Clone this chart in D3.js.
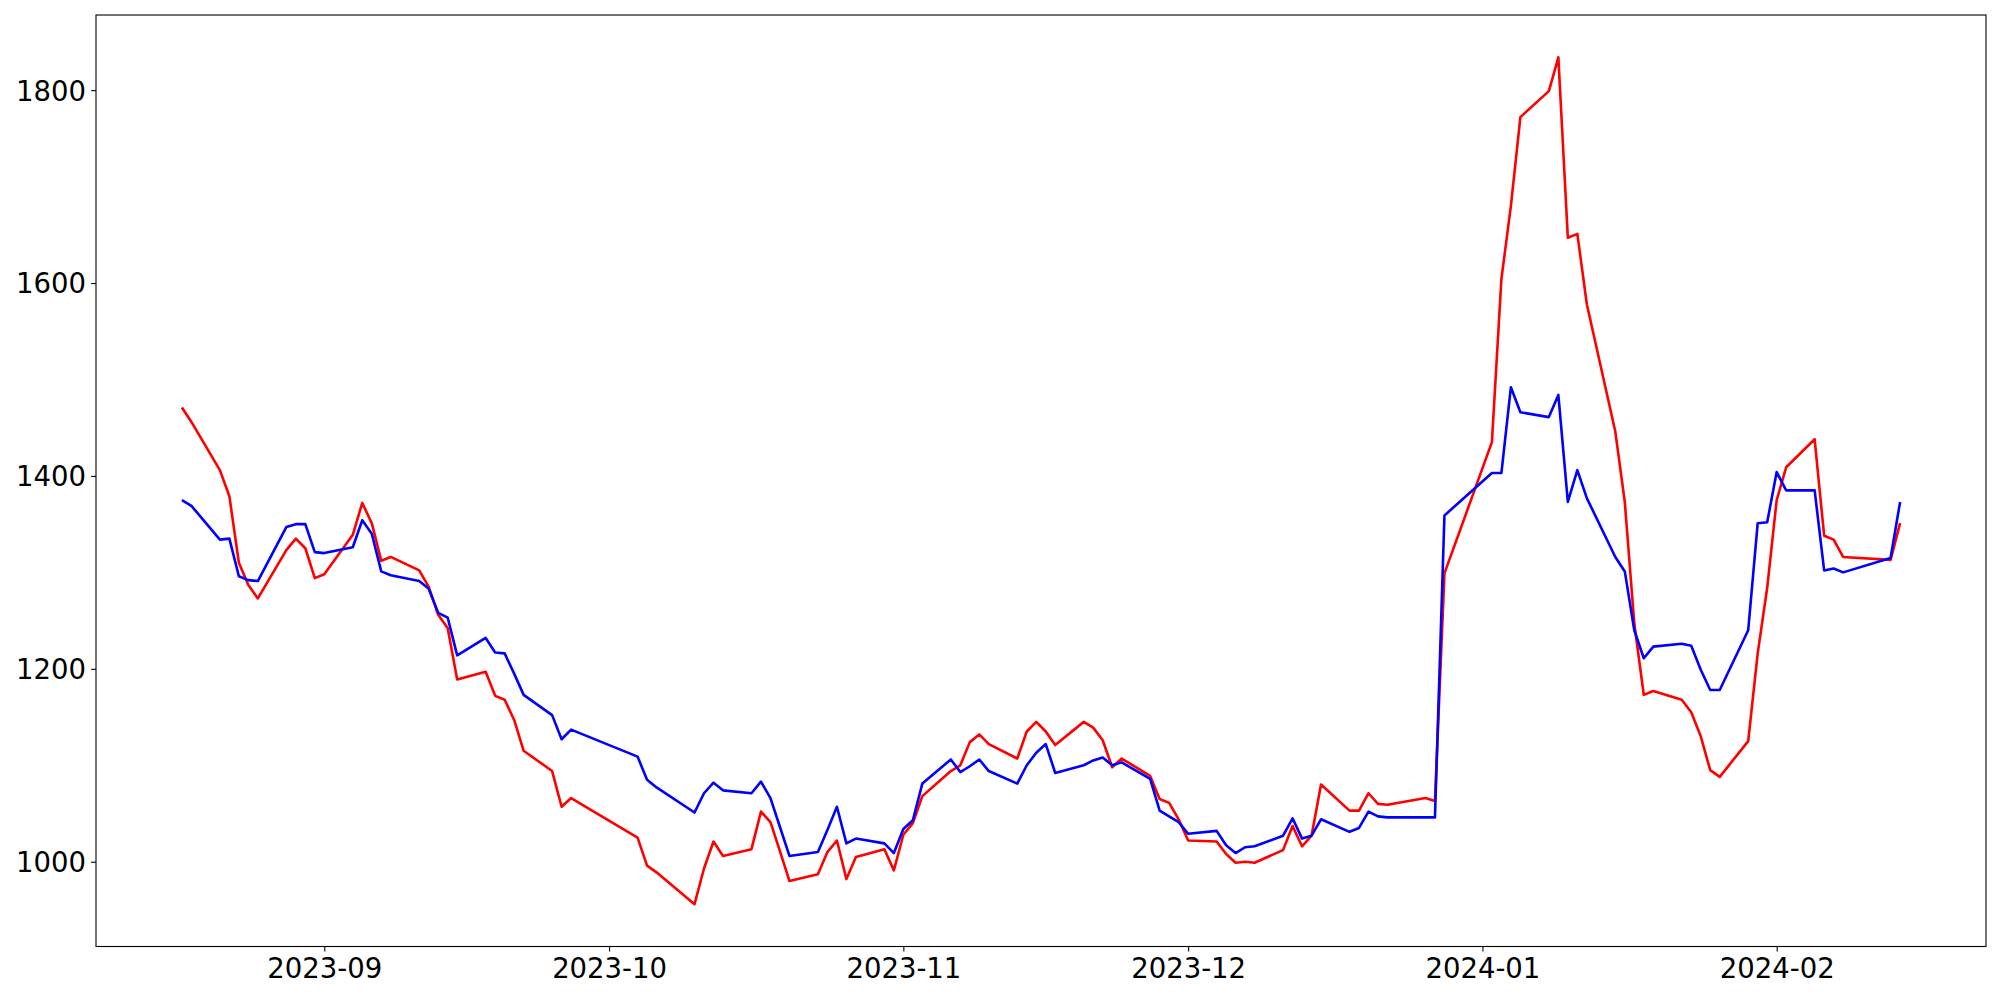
<!DOCTYPE html>
<html>
<head>
<meta charset="utf-8">
<script src="https://cdn.jsdelivr.net/npm/d3@7"></script>
<style>
  html, body { margin: 0; padding: 0; background: #ffffff; }
  svg { display: block; }
  text { font-family: "DejaVu Sans", sans-serif; fill: #000; }
</style>
</head>
<body>
<svg id="chart" width="2000" height="1000"></svg>
<script>
// ---- data (trading days) ----
const dates = [
  "2023-08-17","2023-08-18","2023-08-21","2023-08-22","2023-08-23","2023-08-24","2023-08-25","2023-08-28","2023-08-29","2023-08-30","2023-08-31",
  "2023-09-01","2023-09-04","2023-09-05","2023-09-06","2023-09-07","2023-09-08","2023-09-11","2023-09-12","2023-09-13","2023-09-14","2023-09-15",
  "2023-09-18","2023-09-19","2023-09-20","2023-09-21","2023-09-22","2023-09-25","2023-09-26","2023-09-27",
  "2023-10-04","2023-10-05","2023-10-06","2023-10-10","2023-10-11","2023-10-12","2023-10-13","2023-10-16","2023-10-17","2023-10-18","2023-10-19","2023-10-20",
  "2023-10-23","2023-10-24","2023-10-25","2023-10-26","2023-10-27","2023-10-30","2023-10-31",
  "2023-11-01","2023-11-02","2023-11-03","2023-11-06","2023-11-07","2023-11-08","2023-11-09","2023-11-10","2023-11-13","2023-11-14","2023-11-15","2023-11-16","2023-11-17",
  "2023-11-20","2023-11-21","2023-11-22","2023-11-23","2023-11-24","2023-11-27","2023-11-28","2023-11-29","2023-11-30",
  "2023-12-01","2023-12-04","2023-12-05","2023-12-06","2023-12-07","2023-12-08","2023-12-11","2023-12-12","2023-12-13","2023-12-14","2023-12-15",
  "2023-12-18","2023-12-19","2023-12-20","2023-12-21","2023-12-22","2023-12-26","2023-12-27","2023-12-28",
  "2024-01-02","2024-01-03","2024-01-04","2024-01-05","2024-01-08","2024-01-09","2024-01-10","2024-01-11","2024-01-12",
  "2024-01-15","2024-01-16","2024-01-17","2024-01-18","2024-01-19","2024-01-22","2024-01-23","2024-01-24","2024-01-25","2024-01-26",
  "2024-01-29","2024-01-30","2024-01-31","2024-02-01","2024-02-02","2024-02-05","2024-02-06","2024-02-07","2024-02-08","2024-02-13","2024-02-14"
];
const redSeries = [
  1471,1456,1406,1379,1310,1287,1273,1323,1335,1325,1294,
  1298,1339,1372,1351,1312,1316,1302,1285,1256,1242,1189,
  1197,1172,1168,1147,1115,1094,1057,1066,
  1025,996,989,956,993,1021,1006,1013,1052,1041,1011,980,
  987,1010,1022,982,1005,1013,991,
  1028,1040,1068,1094,1100,1124,1132,1122,1107,1135,1145,1135,1121,
  1145,1139,1126,1098,1107,1089,1065,1061,1044,
  1022,1021,1008,999,1000,999,1012,1037,1016,1027,1080,
  1053,1053,1071,1060,1059,1066,1063,1299,
  1435,1604,1680,1772,1799,1834,1647,1651,1578,
  1446,1373,1247,1173,1177,1168,1155,1130,1095,1088,
  1125,1216,1284,1375,1409,1438,1338,1334,1316,1313,1351
];
const blueSeries = [
  1375,1369,1334,1335,1296,1292,1291,1347,1350,1350,1321,
  1320,1326,1354,1340,1301,1297,1291,1283,1258,1253,1214,
  1232,1217,1216,1195,1173,1152,1127,1137,
  1109,1085,1077,1051,1071,1082,1074,1071,1083,1066,1036,1006,
  1010,1033,1057,1019,1024,1019,1009,
  1034,1043,1081,1106,1093,1099,1106,1094,1081,1100,1113,1122,1092,
  1100,1105,1108,1100,1103,1086,1053,1047,1041,
  1029,1032,1017,1009,1015,1016,1027,1045,1024,1027,1044,
  1031,1035,1052,1047,1046,1046,1046,1359,
  1403,1403,1492,1466,1461,1484,1373,1406,1377,
  1316,1301,1240,1211,1223,1226,1224,1199,1178,1178,
  1240,1351,1352,1404,1385,1385,1302,1304,1300,1315,1373
];
const yTickValues = [1000, 1200, 1400, 1600, 1800];
const xTickLabels = ["2023-09-01","2023-10-01","2023-11-01","2023-12-01","2024-01-01","2024-02-01"];

// ---- layout ----
const W = 2000, H = 1000;
const margin = { left: 96, right: 14, top: 15, bottom: 53.5 };
const iw = W - margin.left - margin.right;
const ih = H - margin.top - margin.bottom;
const fontPx = 27.5;

const parse = d3.utcParse("%Y-%m-%d");
const xs = dates.map(parse);

const xMin = d3.min(xs), xMax = d3.max(xs);
const xPad = (xMax - xMin) * 0.05;
const allY = redSeries.concat(blueSeries);
const yMin = d3.min(allY), yMax = d3.max(allY);
const yPad = (yMax - yMin) * 0.05;

const x = d3.scaleUtc()
  .domain([new Date(+xMin - xPad), new Date(+xMax + xPad)])
  .range([0, iw]);
const y = d3.scaleLinear()
  .domain([yMin - yPad, yMax + yPad])
  .range([ih, 0]);

const svg = d3.select("#chart");
svg.append("rect").attr("width", W).attr("height", H).attr("fill", "#fff");
const g = svg.append("g").attr("transform", `translate(${margin.left},${margin.top})`);

// lines
const line = d3.line()
  .x((d, i) => x(xs[i]))
  .y(d => y(d));

g.append("path").datum(redSeries)
  .attr("fill", "none").attr("stroke", "#ff0000").attr("stroke-width", 2.6)
  .attr("stroke-linejoin", "round").attr("stroke-linecap", "butt")
  .attr("d", line);
g.append("path").datum(blueSeries)
  .attr("fill", "none").attr("stroke", "#0000ff").attr("stroke-width", 2.6)
  .attr("stroke-linejoin", "round").attr("stroke-linecap", "butt")
  .attr("d", line);

// frame
g.append("rect").attr("x", 0).attr("y", 0).attr("width", iw).attr("height", ih)
  .attr("fill", "none").attr("stroke", "#000").attr("stroke-width", 1.1);

// axes
const fmt = d3.utcFormat("%Y-%m");
const xAxis = d3.axisBottom(x)
  .tickValues(xTickLabels.map(parse))
  .tickFormat(fmt)
  .tickSize(4.9).tickPadding(5);
const yAxis = d3.axisLeft(y)
  .tickValues(yTickValues)
  .tickFormat(d3.format("d"))
  .tickSize(4.9).tickPadding(5);

const gx = g.append("g").attr("transform", `translate(0,${ih})`).call(xAxis);
const gy = g.append("g").call(yAxis);
[gx, gy].forEach(a => {
  a.select(".domain").remove();
  a.selectAll(".tick line").attr("stroke", "#000").attr("stroke-width", 1.1);
  a.selectAll(".tick text")
    .attr("fill", "#000")
    .style("font-family", '"DejaVu Sans", sans-serif')
    .style("font-size", fontPx + "px");
});
gx.selectAll(".tick text").attr("dy", "0.78em");
gy.selectAll(".tick text").attr("dy", "0.36em");
</script>
</body>
</html>
